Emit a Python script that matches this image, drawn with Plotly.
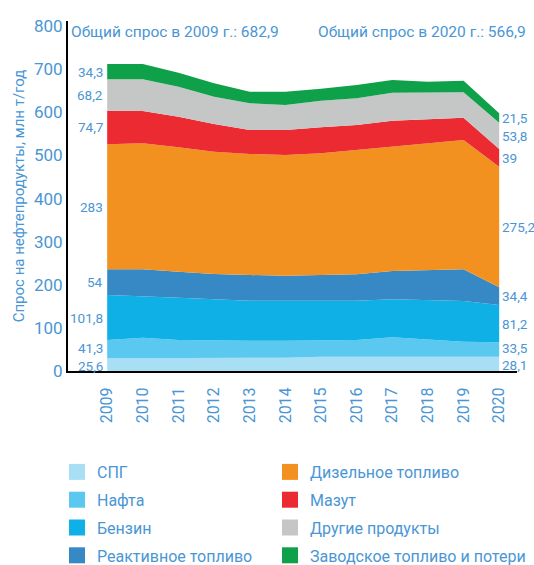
import plotly.graph_objects as go

years = list(range(2009, 2021))

series_names = ["СПГ", "Нафта", "Бензин", "Реактивное топливо",
                "Дизельное топливо", "Мазут", "Другие продукты",
                "Заводское топливо и потери"]
colors = ["#a9dff5", "#5bc8f0", "#0eb0e6", "#3789c6",
          "#f39120", "#ec2a31", "#c5c6c6", "#0fa14a"]

spg      = [29.5, 29.5, 31.0, 31.0, 31.0, 31.0, 33.0, 33.0, 33.0, 33.0, 33.0, 33.0]
nafta    = [42.4, 47.8, 40.9, 39.3, 39.3, 39.3, 38.9, 38.9, 45.2, 40.5, 35.0, 33.6]
benzin   = [104.4, 96.7, 98.2, 96.1, 92.8, 92.8, 91.2, 91.2, 88.2, 91.2, 94.4, 86.5]
jet      = [59.7, 62.0, 60.3, 58.7, 59.6, 58.0, 59.6, 61.3, 65.6, 69.6, 73.6, 41.1]
diesel   = [290.0, 292.3, 288.6, 283.7, 280.8, 280.1, 282.4, 288.4, 287.0, 294.0, 300.0, 279.8]
mazut    = [78.0, 74.9, 71.0, 64.3, 55.7, 58.0, 60.3, 58.0, 61.7, 55.7, 51.7, 41.1]
other    = [72.8, 73.6, 69.6, 63.3, 61.9, 58.0, 61.7, 61.9, 65.0, 61.7, 58.9, 61.0]
refinery = [35.5, 35.5, 32.5, 31.1, 26.9, 30.8, 27.9, 30.9, 29.5, 25.5, 26.9, 21.8]

labels_2009 = ["25,6", "41,3", "101,8", "54", "283", "74,7", "68,2", "34,3"]
labels_2020 = ["28,1", "33,5", "81,2", "34,4", "275,2", "39", "53,8", "21,5"]

total_2009_text = "Общий спрос в 2009 г.: 682,9"
total_2020_text = "Общий спрос в 2020 г.: 566,9"
y_title = "Спрос на нефтепродукты, млн т/год"
y_ticks = [0, 100, 200, 300, 400, 500, 600, 700, 800]

all_series = [spg, nafta, benzin, jet, diesel, mazut, other, refinery]

FONT = "Roboto, sans-serif"
BLUE = "#4a96d4"

fig = go.Figure()
for name, vals, col in zip(series_names, all_series, colors):
    fig.add_trace(go.Scatter(
        x=years, y=vals, name=name, stackgroup="one", mode="lines",
        line=dict(width=0, color=col), fillcolor=col, showlegend=False,
        hoverinfo="skip"))

# legend entries (square swatches), split into two columns
for i, (name, col) in enumerate(zip(series_names, colors)):
    fig.add_trace(go.Scatter(
        x=[None], y=[None], mode="markers", name=name,
        marker=dict(symbol="square", size=16, color=col),
        legend="legend" if i < 4 else "legend2",
        legendgroup=f"g{i}", showlegend=True, hoverinfo="skip"))

# value labels at band midpoints (small nudges keep the two thin
# bottom bands' labels from touching)
nudges = [-1.5, 1.5, 0, 0, 0, 0, 0, 0]
ann = []
cum0 = 0.0
cum1 = 0.0
for i, vals in enumerate(all_series):
    mid0 = cum0 + vals[0] / 2
    mid1 = cum1 + vals[-1] / 2
    cum0 += vals[0]
    cum1 += vals[-1]
    ann.append(dict(x=years[0], y=mid0, text=labels_2009[i], showarrow=False,
                    xanchor="right", yanchor="middle", xshift=-2,
                    yshift=nudges[i],
                    font=dict(family=FONT, size=13.5, color=BLUE)))
    ann.append(dict(x=years[-1], y=mid1, text=labels_2020[i], showarrow=False,
                    xanchor="left", yanchor="middle", xshift=1,
                    yshift=nudges[i],
                    font=dict(family=FONT, size=13.5, color=BLUE)))

ann.append(dict(xref="paper", yref="paper", x=0, y=1, xshift=1, yshift=-11,
                text=total_2009_text, showarrow=False, xanchor="left",
                yanchor="middle", font=dict(family=FONT, size=15.5, color=BLUE)))
ann.append(dict(xref="paper", yref="paper", x=1, y=1, xshift=11, yshift=-11,
                text=total_2020_text, showarrow=False, xanchor="right",
                yanchor="middle", font=dict(family=FONT, size=15.5, color=BLUE)))

legend_common = dict(orientation="v", traceorder="grouped", tracegroupgap=4,
                     font=dict(family=FONT, size=16, color=BLUE),
                     bgcolor="rgba(0,0,0,0)", borderwidth=0,
                     xanchor="left", yanchor="top", itemclick=False,
                     itemdoubleclick=False)

fig.update_layout(
    width=534, height=565,
    margin=dict(l=68, r=17, t=21, b=194, autoexpand=False),
    paper_bgcolor="white", plot_bgcolor="white",
    font=dict(family=FONT, color=BLUE),
    showlegend=True,
    xaxis=dict(range=[2007.9, 2020.5], tickmode="array", tickvals=years,
               ticktext=[str(y) for y in years], tickangle=-90,
               ticklabelstandoff=8,
               showgrid=False, zeroline=False, showline=True, automargin=False,
               linecolor="black", linewidth=2, ticks="",
               tickfont=dict(family=FONT, size=16, color=BLUE)),
    yaxis=dict(range=[0, 812], tickmode="array", tickvals=y_ticks,
               showgrid=False, zeroline=False, showline=True, automargin=False,
               linecolor="black", linewidth=2, ticks="",
               tickfont=dict(family=FONT, size=17, color=BLUE),
               title=dict(text=y_title, standoff=6,
                          font=dict(family=FONT, size=15, color=BLUE))),
    legend=dict(x=(57 - 68) / 449, y=-(455 - 371) / 350, **legend_common),
    legend2=dict(x=(270 - 68) / 449, y=-(455 - 371) / 350, **legend_common),
    annotations=ann,
)

fig.write_html("out.html", config={"displayModeBar": False},
               post_script="document.body.style.margin='0';")
